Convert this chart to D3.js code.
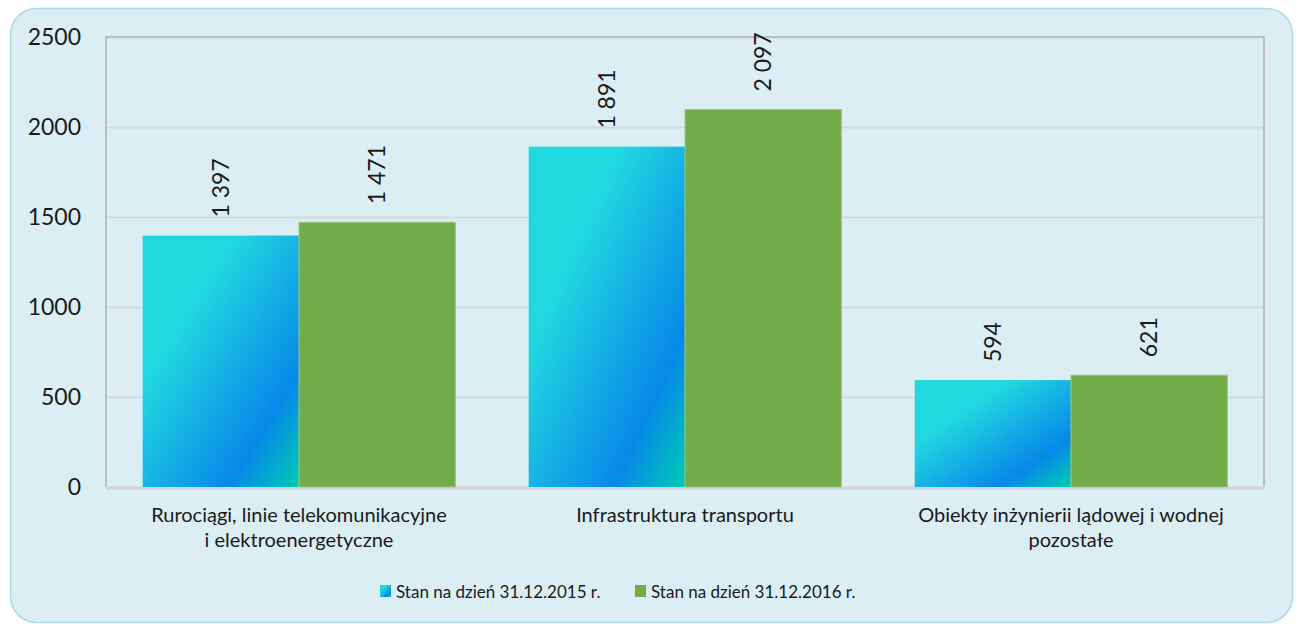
<!DOCTYPE html>
<html>
<head>
<meta charset="utf-8">
<script src="https://cdn.jsdelivr.net/npm/d3@7"></script>
<style>
  body { margin: 0; background: #fff; }
  text { font-family: Lato, "Open Sans", sans-serif; fill: #1a1a1a; }
</style>
</head>
<body>
<svg id="chart" width="1300" height="624"></svg>
<script>
const categories = [
  ["Rurociągi, linie telekomunikacyjne", "i elektroenergetyczne"],
  ["Infrastruktura transportu"],
  ["Obiekty inżynierii lądowej i wodnej", "pozostałe"]
];
const seriesNames = ["Stan na dzień 31.12.2015 r.", "Stan na dzień 31.12.2016 r."];
const values2015 = [1397, 1891, 594];
const values2016 = [1471, 2097, 621];
const yTicks = [0, 500, 1000, 1500, 2000, 2500];

const width = 1300, height = 624;
const margin = {top: 37, right: 36, bottom: 137, left: 106};
const green = "#72ab48";

const svg = d3.select("#chart");

// panel background
svg.append("rect")
    .attr("x", 10.5).attr("y", 8.5)
    .attr("width", 1282).attr("height", 614)
    .attr("rx", 26)
    .attr("fill", "#dbeef4")
    .attr("stroke", "#acd9e7")
    .attr("stroke-width", 1.5);

// blue gradient for the 2015 bars
const defs = svg.append("defs");
const grad = defs.append("linearGradient")
    .attr("id", "blueGrad")
    .attr("x1", 0).attr("y1", 0).attr("x2", 1).attr("y2", 1);
grad.append("stop").attr("offset", "0.3").attr("stop-color", "#22d8e0");
grad.append("stop").attr("offset", "0.77").attr("stop-color", "#0688e8");
grad.append("stop").attr("offset", "1").attr("stop-color", "#00ccb2");

const x0 = d3.scaleBand()
    .domain(d3.range(categories.length))
    .range([margin.left, width - margin.right])
    .paddingInner(0.19)
    .paddingOuter(0.095);
const x1 = d3.scaleBand()
    .domain([0, 1])
    .range([0, x0.bandwidth()]);
const y = d3.scaleLinear()
    .domain([0, 2500])
    .range([height - margin.bottom, margin.top]);

// gridlines
const yAxis = d3.axisLeft(y)
    .tickValues(yTicks)
    .tickFormat(d3.format("d"))
    .tickSize(-(width - margin.left - margin.right))
    .tickPadding(25);
const gY = svg.append("g")
    .attr("transform", `translate(${margin.left},0)`)
    .call(yAxis);
gY.select(".domain").remove();
gY.selectAll(".tick line")
    .attr("stroke", "#d6d9db")
    .attr("stroke-width", 2);
gY.selectAll(".tick text")
    .style("font-size", "23px")
    .attr("fill", "#111");

// frame
svg.append("path")
    .attr("d", `M${margin.left},${height - margin.bottom}V${margin.top}H${width - margin.right}V${height - margin.bottom}`)
    .attr("fill", "none")
    .attr("stroke", "#bdbdbd")
    .attr("stroke-width", 2);
svg.append("line")
    .attr("x1", margin.left).attr("x2", width - margin.right)
    .attr("y1", y(0) + 1).attr("y2", y(0) + 1)
    .attr("stroke", "#d3d6d8")
    .attr("stroke-width", 3);

const data = categories.map((c, i) => ({i, vals: [values2015[i], values2016[i]]}));

const groups = svg.append("g").selectAll("g")
    .data(data)
    .join("g")
    .attr("transform", d => `translate(${x0(d.i)},0)`);

groups.selectAll("rect")
    .data(d => d.vals.map((v, s) => ({v, s})))
    .join("rect")
    .attr("x", d => x1(d.s))
    .attr("y", d => y(d.v))
    .attr("width", x1.bandwidth())
    .attr("height", d => y(0) - y(d.v))
    .attr("fill", d => d.s === 0 ? "url(#blueGrad)" : green)
    .attr("stroke", d => d.s === 0 ? "none" : "#9cc983")
    .attr("stroke-width", 1);

const fmt = v => d3.format(",")(v).replace(",", " ");

groups.selectAll("text.val")
    .data(d => d.vals.map((v, s) => ({v, s})))
    .join("text")
    .attr("class", "val")
    .attr("transform", d => `translate(${x1(d.s) + x1.bandwidth() / 2},${y(d.v) - 18}) rotate(-90)`)
    .attr("dy", "0.36em")
    .style("font-size", "23px")
    .text(d => fmt(d.v));

// category labels
const catG = svg.append("g");
categories.forEach((lines, i) => {
  const t = catG.append("text")
      .attr("x", x0(i) + x0.bandwidth() / 2)
      .attr("y", 522)
      .attr("text-anchor", "middle")
      .style("font-size", "20px");
  lines.forEach((l, k) => {
    t.append("tspan")
        .attr("x", x0(i) + x0.bandwidth() / 2)
        .attr("dy", k === 0 ? 0 : 25)
        .text(l);
  });
});

// legend
const legendX = [380, 635];
const legend = svg.append("g");
seriesNames.forEach((name, s) => {
  legend.append("rect")
      .attr("x", legendX[s]).attr("y", 585)
      .attr("width", 11).attr("height", 12)
      .attr("fill", s === 0 ? "url(#blueGrad)" : green);
  legend.append("text")
      .attr("x", legendX[s] + 16).attr("y", 598)
      .style("font-size", "17px")
      .text(name);
});
</script>
</body>
</html>
